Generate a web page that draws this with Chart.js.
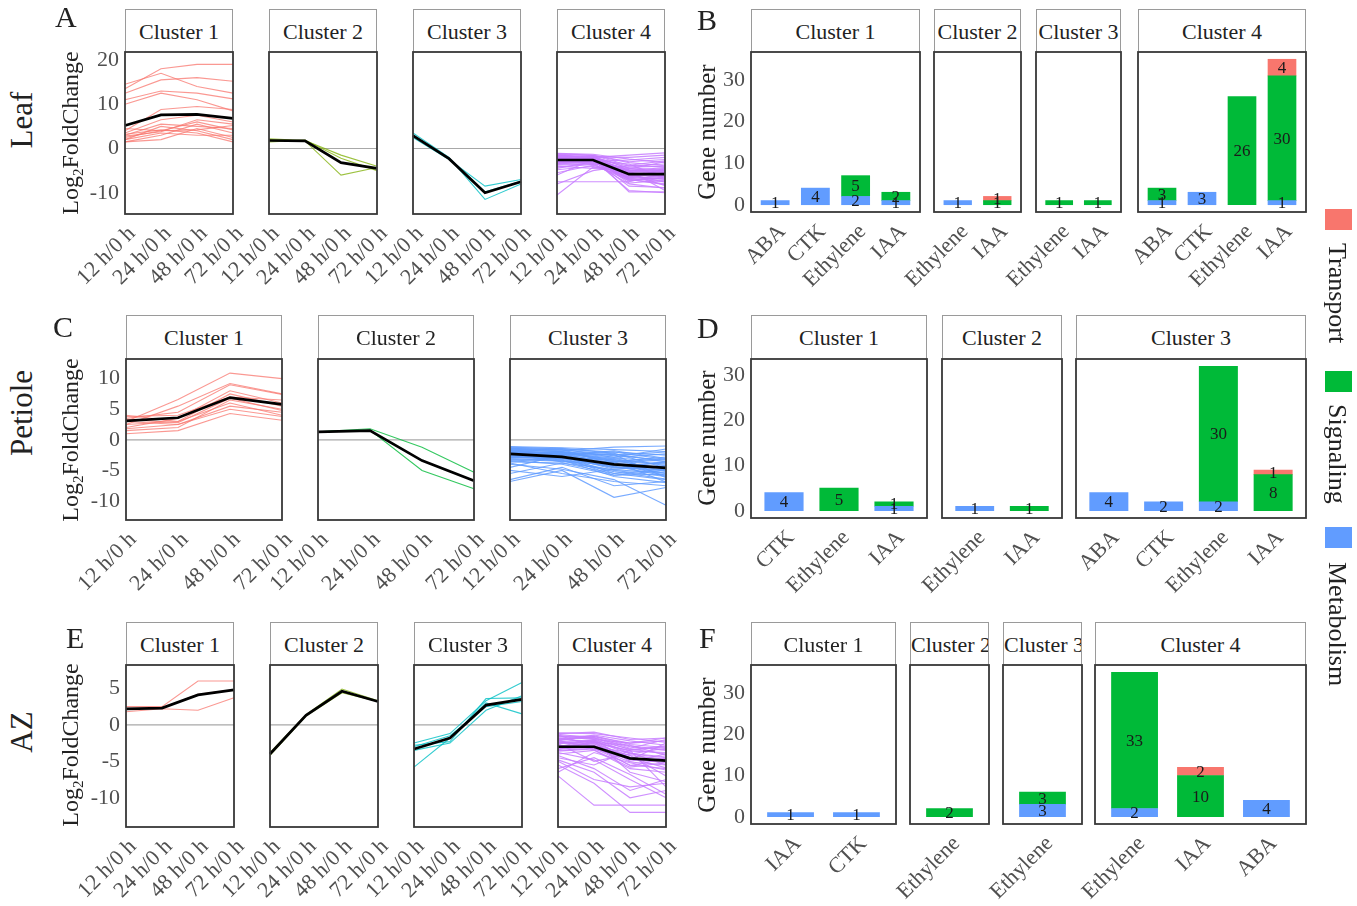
<!DOCTYPE html>
<html>
<head>
<meta charset="utf-8">
<script src="https://cdn.jsdelivr.net/npm/chart.js@4.4.1/dist/chart.umd.min.js"></script>
<style>
  body { margin: 0; background: #fff; }
  #fig { position: relative; width: 1357px; height: 906px; overflow: hidden; font-family: "Liberation Serif", "Times New Roman", serif; }
  .strip { position: absolute; box-sizing: border-box; border: 1px solid #9a9a9a; border-bottom: none; background: #fff; color: #222; font-size: 22px; text-align: center; overflow: hidden; white-space: nowrap; }
  .txt { position: absolute; white-space: nowrap; color: #222; line-height: 1; }
  .rot { transform: translate(-50%, -50%) rotate(-90deg); }
  .vert { writing-mode: vertical-rl; font-size: 26px; line-height: 30px; }
  .key { position: absolute; width: 27px; height: 21px; }
  canvas { position: absolute; }
</style>
</head>
<body>
<div id="fig"></div>
<script>
const timeLabels = ['12 h/0 h', '24 h/0 h', '48 h/0 h', '72 h/0 h'];

// A - Leaf, log2 fold change per gene
const leafC1Mean = [5.2, 7.6, 7.7, 6.8];
const leafC1Genes = [
  [13.5, 18.0, 19.0, 19.0], [14.5, 17.0, 14.0, 12.5], [12.5, 15.5, 16.0, 15.2],
  [11.0, 13.0, 12.5, 11.2], [10.0, 12.5, 11.0, 8.5], [4.0, 8.8, 9.5, 8.8],
  [3.5, 6.5, 7.5, 6.0], [3.0, 5.5, 5.0, 4.5], [2.5, 4.0, 6.0, 4.2],
  [2.0, 3.5, 3.0, 3.0], [1.5, 2.0, 4.5, 2.5], [3.2, 4.2, 3.5, 1.5],
  [2.0, 5.0, 4.0, 2.0], [1.5, 3.0, 5.5, 3.5], [4.5, 4.0, 4.2, 5.2],
  [2.8, 3.8, 6.5, 5.5]
];
const leafC2Mean = [1.8, 1.7, -3.2, -4.5];
const leafC2Genes = [[2.2, 1.8, -1.5, -4.0], [2.0, 1.7, -6.0, -4.3], [1.5, 1.9, -2.2, -5.0]];
const leafC3Mean = [2.9, -2.3, -10.0, -7.5];
const leafC3Genes = [[3.5, -2.0, -11.5, -8.0], [2.5, -2.5, -8.5, -7.0], [3.0, -2.2, -9.8, -7.4]];
const leafC4Mean = [-2.6, -2.6, -5.8, -5.8];
const leafC4Genes = [
  [-1.5, -1.8, -4.5, -5.5], [-2.0, -2.2, -5.0, -6.0], [-2.5, -2.5, -5.5, -5.8],
  [-3.0, -2.8, -6.0, -6.5], [-1.8, -2.0, -4.0, -3.5], [-2.2, -2.4, -6.5, -7.0],
  [-3.5, -3.0, -7.0, -8.0], [-1.2, -1.5, -3.0, -2.5], [-2.8, -2.6, -5.2, -4.5],
  [-3.2, -3.3, -8.0, -9.0], [-2.0, -2.5, -9.5, -10.0], [-1.6, -2.0, -1.5, -1.0],
  [-2.4, -1.9, -2.0, -1.5], [-3.8, -3.5, -4.2, -4.0], [-4.5, -3.0, -6.8, -7.5],
  [-5.5, -3.8, -5.8, -6.2], [-7.5, -7.5, -7.5, -5.5], [-10.5, -4.2, -4.8, -5.0],
  [-6.0, -2.5, -8.5, -8.8], [-4.0, -4.5, -5.0, -9.5], [-2.6, -2.2, -7.8, -7.2],
  [-1.9, -2.7, -3.5, -6.8], [-3.0, -2.0, -9.8, -9.8], [-2.2, -3.0, -4.6, -3.0],
  [-8.0, -5.0, -3.8, -2.8], [-1.4, -2.3, -6.2, -5.0], [-2.7, -1.7, -5.6, -8.4],
  [-3.4, -2.9, -2.6, -2.0], [-2.1, -2.6, -7.4, -6.4], [-4.8, -4.0, -6.5, -4.6],
  [-1.3, -1.6, -3.8, -4.2], [-1.7, -1.9, -4.4, -4.8], [-2.3, -2.1, -4.9, -5.2],
  [-2.9, -2.7, -5.4, -6.1], [-3.1, -3.0, -6.3, -6.9], [-1.5, -2.2, -5.9, -7.6],
  [-2.5, -2.9, -6.6, -5.4], [-2.0, -1.6, -3.2, -3.9], [-3.6, -3.4, -5.0, -4.3],
  [-1.1, -1.3, -2.4, -3.2], [-2.6, -2.3, -7.0, -8.2], [-3.3, -2.5, -4.8, -5.7],
  [-1.8, -2.8, -6.8, -6.3], [-2.4, -2.0, -5.3, -4.9], [-4.2, -3.6, -7.2, -6.7]
];

// C - Petiole
const petC1Mean = [3.1, 3.6, 6.9, 5.8];
const petC1Genes = [
  [3.0, 6.6, 10.9, 10.0], [2.5, 5.5, 9.2, 7.5], [3.5, 4.5, 9.0, 7.4],
  [2.0, 3.5, 8.0, 6.0], [4.0, 3.0, 7.5, 5.5], [1.5, 2.0, 6.5, 5.0],
  [1.0, 1.5, 4.3, 3.2], [3.0, 2.5, 5.5, 4.5], [3.8, 4.0, 7.0, 6.5],
  [2.5, 3.0, 6.0, 4.0], [1.8, 2.5, 5.0, 3.8], [3.3, 2.8, 6.8, 4.8]
];
const petC2Mean = [1.3, 1.5, -3.4, -6.7];
const petC2Genes = [[1.3, 1.8, -1.2, -5.3], [1.3, 1.6, -5.0, -8.0]];
const petC3Mean = [-2.3, -2.8, -4.0, -4.6];
const petC3Genes = [
  [-1.2, -1.5, -2.0, -2.5], [-1.5, -1.8, -1.2, -1.0], [-1.8, -2.2, -3.0, -3.5],
  [-2.0, -2.5, -3.5, -4.0], [-2.2, -2.0, -2.5, -2.0], [-2.5, -3.0, -4.5, -5.0],
  [-1.4, -1.6, -4.0, -5.5], [-2.8, -3.2, -5.0, -6.0], [-3.0, -2.8, -3.8, -4.5],
  [-1.6, -2.4, -1.8, -3.0], [-2.4, -2.6, -5.5, -6.5], [-3.2, -3.5, -4.2, -3.8],
  [-1.9, -2.1, -2.8, -1.5], [-2.6, -3.3, -6.0, -7.0], [-3.5, -3.0, -3.2, -5.2],
  [-4.5, -2.5, -2.0, -3.2], [-5.5, -3.8, -5.5, -4.8], [-6.5, -4.5, -7.5, -6.8],
  [-6.8, -5.0, -9.4, -7.8], [-4.0, -4.8, -6.5, -10.7], [-5.0, -6.0, -4.8, -4.2],
  [-3.8, -5.5, -6.8, -7.5], [-2.1, -1.9, -3.3, -3.8], [-1.7, -2.7, -4.8, -4.3],
  [-2.9, -2.3, -2.4, -6.2], [-3.4, -4.0, -5.8, -5.6], [-2.3, -3.6, -3.6, -2.8],
  [-1.3, -1.4, -2.2, -4.6], [-1.1, -1.3, -1.6, -1.9], [-1.6, -1.9, -2.6, -3.3],
  [-2.1, -2.4, -3.1, -4.2], [-2.7, -2.9, -4.4, -4.9], [-1.9, -2.3, -3.9, -5.8],
  [-3.1, -3.4, -5.2, -6.4], [-2.3, -2.7, -4.6, -3.6], [-1.8, -1.5, -2.9, -2.3],
  [-2.5, -2.1, -3.4, -4.8], [-3.6, -3.8, -4.9, -5.4], [-1.5, -2.0, -3.6, -6.9],
  [-2.0, -2.9, -5.8, -5.0], [-2.9, -3.1, -3.7, -3.1], [-1.4, -1.7, -2.3, -3.6],
  [-2.6, -2.4, -4.3, -5.9]
];

// E - AZ
const azC1Mean = [2.2, 2.3, 4.1, 4.8];
const azC1Genes = [[2.5, 2.5, 6.0, 6.0], [1.8, 2.2, 2.0, 3.7], [2.2, 2.3, 4.2, 4.8]];
const azC2Mean = [-4.0, 1.3, 4.6, 3.2];
const azC2Genes = [[-3.8, 1.4, 4.9, 3.3], [-4.2, 1.2, 4.4, 3.2]];
const azC3Mean = [-3.3, -1.8, 2.7, 3.5];
const azC3Genes = [
  [-2.5, -1.2, 3.3, 5.8], [-3.5, -2.5, 2.0, 4.0], [-5.8, -1.8, 3.0, 1.5],
  [-3.0, -1.5, 2.5, 3.2], [-2.8, -2.3, 3.6, 3.7]
];
const azC4Mean = [-3.0, -3.0, -4.6, -4.9];
const azC4Genes = [
  [-1.2, -1.0, -2.0, -1.8], [-1.5, -1.6, -2.5, -2.2], [-2.0, -1.8, -3.0, -3.5],
  [-2.5, -2.2, -4.0, -4.5], [-1.8, -2.5, -3.5, -3.0], [-3.0, -2.8, -4.5, -5.0],
  [-2.2, -1.4, -2.2, -2.8], [-1.6, -2.0, -5.0, -4.0], [-3.5, -3.2, -5.5, -6.0],
  [-2.8, -3.0, -3.8, -5.5], [-4.0, -3.5, -6.0, -6.5], [-2.4, -2.6, -4.8, -2.5],
  [-3.2, -2.4, -2.8, -4.2], [-1.4, -3.0, -4.2, -7.0], [-4.5, -5.5, -3.5, -8.5],
  [-5.0, -7.5, -8.5, -8.0], [-6.0, -4.5, -6.8, -9.5], [-7.0, -11.0, -11.0, -11.0],
  [-5.5, -8.0, -12.0, -12.0], [-4.2, -6.0, -9.0, -7.5], [-3.8, -4.8, -7.5, -10.0],
  [-6.5, -3.8, -5.2, -6.2], [-2.6, -5.0, -4.0, -3.2], [-3.4, -2.2, -6.5, -7.8],
  [-1.9, -1.7, -3.2, -2.0], [-2.1, -3.4, -5.8, -5.2], [-4.8, -6.5, -10.0, -9.0],
  [-3.0, -2.0, -2.5, -1.8], [-1.1, -1.2, -1.8, -2.4], [-1.7, -1.5, -2.7, -3.1],
  [-2.3, -2.1, -3.3, -4.0], [-2.9, -2.6, -4.2, -4.7], [-1.5, -1.9, -3.9, -4.4],
  [-2.6, -2.3, -3.6, -3.8], [-3.3, -3.1, -5.1, -5.5], [-1.9, -2.4, -4.5, -5.9],
  [-2.0, -1.6, -2.9, -3.4], [-3.6, -3.3, -4.7, -5.2], [-1.3, -1.8, -3.4, -2.9],
  [-2.4, -2.8, -5.6, -4.6]
];

// B - Leaf gene numbers
const leafB1Cats = ['ABA', 'CTK', 'Ethylene', 'IAA'];
const leafB1Metabolism = [1, 4, 2, 1];
const leafB1Signaling = [0, 0, 5, 2];
const leafB1Transport = [0, 0, 0, 0];
const leafB2Cats = ['Ethylene', 'IAA'];
const leafB2Metabolism = [1, 0];
const leafB2Signaling = [0, 1];
const leafB2Transport = [0, 1];
const leafB3Cats = ['Ethylene', 'IAA'];
const leafB3Metabolism = [0, 0];
const leafB3Signaling = [1, 1];
const leafB3Transport = [0, 0];
const leafB4Cats = ['ABA', 'CTK', 'Ethylene', 'IAA'];
const leafB4Metabolism = [1, 3, 0, 1];
const leafB4Signaling = [3, 0, 26, 30];
const leafB4Transport = [0, 0, 0, 4];

// D - Petiole gene numbers
const petD1Cats = ['CTK', 'Ethylene', 'IAA'];
const petD1Metabolism = [4, 0, 1];
const petD1Signaling = [0, 5, 1];
const petD1Transport = [0, 0, 0];
const petD2Cats = ['Ethylene', 'IAA'];
const petD2Metabolism = [1, 0];
const petD2Signaling = [0, 1];
const petD2Transport = [0, 0];
const petD3Cats = ['ABA', 'CTK', 'Ethylene', 'IAA'];
const petD3Metabolism = [4, 2, 2, 0];
const petD3Signaling = [0, 0, 30, 8];
const petD3Transport = [0, 0, 0, 1];

// F - AZ gene numbers
const azF1Cats = ['IAA', 'CTK'];
const azF1Metabolism = [1, 1];
const azF1Signaling = [0, 0];
const azF1Transport = [0, 0];
const azF2Cats = ['Ethylene'];
const azF2Metabolism = [0];
const azF2Signaling = [2];
const azF2Transport = [0];
const azF3Cats = ['Ethylene'];
const azF3Metabolism = [3];
const azF3Signaling = [3];
const azF3Transport = [0];
const azF4Cats = ['Ethylene', 'IAA', 'ABA'];
const azF4Metabolism = [2, 0, 4];
const azF4Signaling = [33, 10, 0];
const azF4Transport = [0, 2, 0];

const legendLabels = ['Transport', 'Signaling', 'Metabolism'];

// styles
const colTransport = '#F8766D', colSignaling = '#00BA38', colMetabolism = '#619CFF';
const red = 'rgba(248,118,109,0.75)', olive = 'rgba(124,174,0,0.75)', teal = 'rgba(0,191,196,0.8)';
const purple = 'rgba(199,124,255,0.85)', green = 'rgba(0,186,56,0.8)', blue = 'rgba(97,156,255,0.85)';
const serif = '"Liberation Serif", "Times New Roman", serif';
const tickColor = '#505050';
const padL = 66, padR = 26, padT = 4, padB = 90, yAxisW = 44;

const fig = document.getElementById('fig');

function addText(html, cls, css) {
  const d = document.createElement('div');
  d.className = cls;
  d.innerHTML = html;
  Object.assign(d.style, css);
  fig.appendChild(d);
  return d;
}

function addCanvas(box) {
  const c = document.createElement('canvas');
  const w = box.w + padL + padR, h = box.h + padT + padB;
  c.width = w; c.height = h;
  c.style.left = (box.x - padL) + 'px';
  c.style.top = (box.y - padT) + 'px';
  c.style.width = w + 'px';
  c.style.height = h + 'px';
  fig.appendChild(c);
  return c;
}

function addStrip(box, top, label) {
  addText(label, 'strip', { left: box.x + 'px', top: top + 'px', width: box.w + 'px', height: (box.y - top) + 'px', lineHeight: (box.y - top) + 'px' });
}

const framePlugin = {
  id: 'frame',
  beforeDatasetsDraw(chart, args, opts) {
    if (!opts.zeroLine) return;
    const { ctx, chartArea: a, scales: { y } } = chart;
    const py = y.getPixelForValue(0);
    ctx.save();
    ctx.strokeStyle = '#a8a8a8';
    ctx.lineWidth = 1.2;
    ctx.beginPath(); ctx.moveTo(a.left, py); ctx.lineTo(a.right, py); ctx.stroke();
    ctx.restore();
  },
  afterDraw(chart) {
    const { ctx, chartArea: a } = chart;
    ctx.save();
    ctx.strokeStyle = '#383838';
    ctx.lineWidth = 1.8;
    ctx.strokeRect(a.left, a.top, a.right - a.left, a.bottom - a.top);
    ctx.restore();
  }
};

const stackLabels = {
  id: 'stackLabels',
  afterDatasetsDraw(chart) {
    const { ctx } = chart;
    ctx.save();
    ctx.font = '17px ' + serif;
    ctx.fillStyle = '#1a1a1a';
    ctx.textAlign = 'center';
    ctx.textBaseline = 'middle';
    chart.data.datasets.forEach((ds, i) => {
      chart.getDatasetMeta(i).data.forEach((bar, j) => {
        const { x, y, base } = bar.getProps(['x', 'y', 'base'], true);
        ctx.fillText(ds.data[j].y, x, (y + base) / 2 + 1);
      });
    });
    ctx.restore();
  }
};

function facetOptions(showY, yMin, yMax, step, xExtra, zeroLine) {
  return {
    responsive: false,
    animation: false,
    events: [],
    layout: { autoPadding: false, padding: { left: showY ? padL - yAxisW : padL, right: padR, top: padT, bottom: 0 } },
    plugins: { legend: { display: false }, tooltip: { enabled: false }, frame: { zeroLine } },
    scales: {
      x: Object.assign({
        grid: { display: false, drawTicks: false },
        border: { display: false },
        afterFit: s => { s.height = padB; s.paddingLeft = 0; s.paddingRight = 0; }
      }, xExtra),
      y: {
        display: showY,
        min: yMin, max: yMax,
        stacked: !zeroLine,
        grid: { display: false, drawTicks: false },
        border: { display: false },
        ticks: { stepSize: step, includeBounds: false, padding: 6, color: tickColor, font: { family: serif, size: 22 } },
        afterFit: s => { if (showY) s.width = yAxisW; s.paddingTop = 0; s.paddingBottom = 0; }
      }
    }
  };
}

const xTicks = { autoSkip: false, minRotation: 45, maxRotation: 45, padding: 7, labelOffset: 7, color: tickColor, font: { family: serif, size: 22 } };

function lineFacet(box, stripTop, title, genes, mean, color, yMin, yMax, step, showY) {
  addStrip(box, stripTop, title);
  const datasets = [{ data: mean, borderColor: '#000', borderWidth: 2.7, pointRadius: 0 }];
  genes.forEach(g => datasets.push({ data: g, borderColor: color, borderWidth: 1.1, pointRadius: 0 }));
  new Chart(addCanvas(box), {
    type: 'line',
    data: { labels: timeLabels, datasets },
    options: facetOptions(showY, yMin, yMax, step, { type: 'category', offset: false, ticks: xTicks }, true),
    plugins: [framePlugin]
  });
}

function barFacet(box, stripTop, title, cats, metab, signal, trans, yMin, yMax, showY) {
  addStrip(box, stripTop, title);
  // one category unit = facet width / (n + 0.2), bars take 70% of it
  const thick = box.w / (cats.length + 0.2) * 0.7;
  const series = [[legendLabels[2], metab, colMetabolism], [legendLabels[1], signal, colSignaling], [legendLabels[0], trans, colTransport]];
  const datasets = series.map(([label, vals, color]) => ({
    label,
    backgroundColor: color,
    borderWidth: 0,
    barThickness: thick,
    data: vals.map((v, i) => ({ x: i + 1, y: v })).filter(p => p.y > 0)
  }));
  new Chart(addCanvas(box), {
    type: 'bar',
    data: { datasets },
    options: facetOptions(showY, yMin, yMax, 10, {
      type: 'linear', offset: false, min: 0.4, max: cats.length + 0.6, stacked: true,
      afterBuildTicks: s => { s.ticks = cats.map((c, i) => ({ value: i + 1 })); },
      ticks: Object.assign({}, xTicks, { callback: v => cats[Math.round(v) - 1] })
    }, false),
    plugins: [stackLabels, framePlugin]
  });
}

// A
const boxA = [125, 269, 413, 557].map(x => ({ x, y: 52, w: 108, h: 162 }));
lineFacet(boxA[0], 9, 'Cluster 1', leafC1Genes, leafC1Mean, red, -14.8, 21.8, 10, true);
lineFacet(boxA[1], 9, 'Cluster 2', leafC2Genes, leafC2Mean, olive, -14.8, 21.8, 10, false);
lineFacet(boxA[2], 9, 'Cluster 3', leafC3Genes, leafC3Mean, teal, -14.8, 21.8, 10, false);
lineFacet(boxA[3], 9, 'Cluster 4', leafC4Genes, leafC4Mean, purple, -14.8, 21.8, 10, false);

// C
const boxC = [126, 318, 510].map(x => ({ x, y: 359, w: 156, h: 161 }));
lineFacet(boxC[0], 315, 'Cluster 1', petC1Genes, petC1Mean, red, -13.1, 13.2, 5, true);
lineFacet(boxC[1], 315, 'Cluster 2', petC2Genes, petC2Mean, green, -13.1, 13.2, 5, false);
lineFacet(boxC[2], 315, 'Cluster 3', petC3Genes, petC3Mean, blue, -13.1, 13.2, 5, false);

// E
const boxE = [126, 270, 414, 558].map(x => ({ x, y: 665, w: 108, h: 162 }));
lineFacet(boxE[0], 622, 'Cluster 1', azC1Genes, azC1Mean, red, -14, 8.2, 5, true);
lineFacet(boxE[1], 622, 'Cluster 2', azC2Genes, azC2Mean, olive, -14, 8.2, 5, false);
lineFacet(boxE[2], 622, 'Cluster 3', azC3Genes, azC3Mean, teal, -14, 8.2, 5, false);
lineFacet(boxE[3], 622, 'Cluster 4', azC4Genes, azC4Mean, purple, -14, 8.2, 5, false);

// B
barFacet({ x: 751, y: 52, w: 169, h: 160 }, 9, 'Cluster 1', leafB1Cats, leafB1Metabolism, leafB1Signaling, leafB1Transport, -1.75, 36.75, true);
barFacet({ x: 934, y: 52, w: 87, h: 160 }, 9, 'Cluster 2', leafB2Cats, leafB2Metabolism, leafB2Signaling, leafB2Transport, -1.75, 36.75, false);
barFacet({ x: 1036, y: 52, w: 85, h: 160 }, 9, 'Cluster 3', leafB3Cats, leafB3Metabolism, leafB3Signaling, leafB3Transport, -1.75, 36.75, false);
barFacet({ x: 1138, y: 52, w: 168, h: 160 }, 9, 'Cluster 4', leafB4Cats, leafB4Metabolism, leafB4Signaling, leafB4Transport, -1.75, 36.75, false);

// D
barFacet({ x: 751, y: 359, w: 176, h: 159 }, 315, 'Cluster 1', petD1Cats, petD1Metabolism, petD1Signaling, petD1Transport, -1.6, 33.6, true);
barFacet({ x: 942, y: 359, w: 120, h: 159 }, 315, 'Cluster 2', petD2Cats, petD2Metabolism, petD2Signaling, petD2Transport, -1.6, 33.6, false);
barFacet({ x: 1076, y: 359, w: 230, h: 159 }, 315, 'Cluster 3', petD3Cats, petD3Metabolism, petD3Signaling, petD3Transport, -1.6, 33.6, false);

// F
barFacet({ x: 751, y: 665, w: 145, h: 159 }, 622, 'Cluster 1', azF1Cats, azF1Metabolism, azF1Signaling, azF1Transport, -1.75, 36.75, true);
barFacet({ x: 910, y: 665, w: 79, h: 159 }, 622, 'Cluster 2', azF2Cats, azF2Metabolism, azF2Signaling, azF2Transport, -1.75, 36.75, false);
barFacet({ x: 1003, y: 665, w: 79, h: 159 }, 622, 'Cluster 3', azF3Cats, azF3Metabolism, azF3Signaling, azF3Transport, -1.75, 36.75, false);
barFacet({ x: 1095, y: 665, w: 211, h: 159 }, 622, 'Cluster 4', azF4Cats, azF4Metabolism, azF4Signaling, azF4Transport, -1.75, 36.75, false);

// titles and row labels
const logTitle = 'Log<sub style="font-size:15px">2</sub>FoldChange';
[133, 440, 745].forEach(cy => addText(logTitle, 'txt rot', { left: '72px', top: cy + 'px', fontSize: '24px' }));
[132, 438, 745].forEach(cy => addText('Gene number', 'txt rot', { left: '706px', top: cy + 'px', fontSize: '25px' }));
[['Leaf', 120], ['Petiole', 413], ['AZ', 732]].forEach(([t, cy]) => addText(t, 'txt rot', { left: '21px', top: cy + 'px', fontSize: '31px' }));
[['A', 55, 2], ['B', 697, 5], ['C', 53, 312], ['D', 697, 313], ['E', 66, 623], ['F', 699, 623]].forEach(([t, x, y]) =>
  addText(t, 'txt', { left: x + 'px', top: y + 'px', fontSize: '30px' }));

// legend
[[colTransport, 209, 243], [colSignaling, 371, 404], [colMetabolism, 527, 562]].forEach(([c, ky, ty], i) => {
  const k = document.createElement('div');
  k.className = 'key';
  Object.assign(k.style, { left: '1325px', top: ky + 'px', background: c });
  fig.appendChild(k);
  addText(legendLabels[i], 'txt vert', { left: '1322px', top: ty + 'px' });
});
</script>
</body>
</html>
